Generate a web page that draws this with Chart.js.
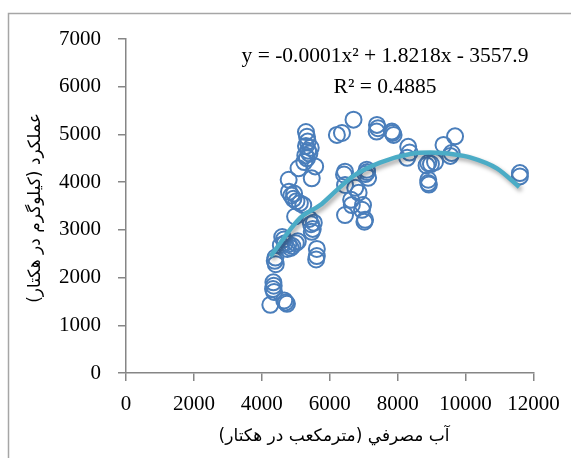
<!DOCTYPE html>
<html>
<head>
<meta charset="utf-8">
<script src="https://cdn.jsdelivr.net/npm/chart.js@4.4.1/dist/chart.umd.min.js"></script>
<style>
  html, body { margin: 0; padding: 0; background: #fff; }
  #wrap { width: 571px; height: 458px; }
</style>
</head>
<body>
<div id="wrap"><canvas id="chart" width="571" height="458"></canvas></div>
<script>
// آب مصرفی (m3/ha) و عملکرد (kg/ha) - خوانده شده از نمودار
const waterUsed = [
    4250, 4660, 4700, 4740, 4340, 4350, 4330, 4360, 4400, 4380,
    4410, 4600, 4650, 4680, 4780, 4900, 5000, 5060, 4750, 4850,
    4560, 5620, 5620, 5600, 5400, 5450, 5500, 5470, 5530, 4980,
    4800, 4870, 4930, 5020, 5120, 5220, 4950, 4790, 5080, 5470,
    5570, 5300, 5330, 5350, 5300, 5360, 5280, 5330, 5250, 5400,
    5440, 6210, 6360, 6700, 7390, 7420, 7380, 7830, 7880, 7850,
    8310, 8350, 8280, 6450, 6420, 6450, 7090, 7050, 7130, 7100,
    6750, 6850, 6630, 6650, 6980, 6950, 6450, 7040, 7020, 8900,
    8980, 8850, 9100, 8900, 8900, 8920, 9350, 9690, 9590, 9550,
    11600, 11600
];
const grainYield = [
    1430, 1520, 1480, 1450, 1900, 1830, 1760, 1700, 2420, 2350,
    2280, 2850, 2800, 2720, 2700, 2660, 2720, 2760, 2600, 2620,
    2680, 2600, 2450, 2380, 3230, 3120, 3020, 2960, 3150, 3280,
    3800, 3720, 3650, 3600, 3560, 3520, 3760, 4050, 4290, 4080,
    4330, 5050, 4950, 4850, 4760, 4660, 4560, 4500, 4420, 4600,
    4720, 4990, 5030, 5310, 5200, 5130, 5060, 5060, 4990, 5030,
    4740, 4620, 4510, 4220, 4160, 3940, 4260, 4170, 4090, 4210,
    3880, 3780, 3630, 3520, 3520, 3420, 3310, 3210, 3170, 4400,
    4380, 4350, 4420, 4050, 3980, 3950, 4780, 4960, 4610, 4550,
    4190, 4120
];

// خط روند (درجه دوم) - نقاط خوانده شده روی منحنی
const trendWater = [4250, 5130, 5720, 6110, 6700, 7480, 8370, 8960, 9680, 10130, 10920, 11580];
const trendYield = [2440, 3250, 3520, 3770, 4130, 4410, 4590, 4620, 4580, 4520, 4290, 3900];

const xTicks = [0, 2000, 4000, 6000, 8000, 10000, 12000];
const yTicks = [0, 1000, 2000, 3000, 4000, 5000, 6000, 7000];

const xTitle = 'آب مصرفي (مترمکعب در هکتار)';
const yTitle = 'عملکرد (کیلوگرم در هکتار)';
const eqText = 'y = -0.0001x² + 1.8218x - 3557.9';
const r2Text = 'R² = 0.4885';

const serif = '"Liberation Serif", "Times New Roman", serif';
const axisGray = '#868686';

const extras = {
    id: 'extras',
    beforeDraw: function (chart) {
        const ctx = chart.ctx;
        ctx.save();
        ctx.fillStyle = '#fff';
        ctx.fillRect(0, 0, chart.width, chart.height);
        ctx.strokeStyle = '#a6a6a6';
        ctx.lineWidth = 1.5;
        ctx.strokeRect(8.5, 13.5, chart.width + 20, chart.height + 20);
        ctx.restore();
    },
    beforeDatasetDraw: function (chart, args) {
        if (args.index !== 0) return;
        const ctx = chart.ctx;
        ctx.save();
        ctx.shadowColor = 'rgba(0,0,0,0.35)';
        ctx.shadowBlur = 4;
        ctx.shadowOffsetX = 2;
        ctx.shadowOffsetY = 3;
    },
    afterDatasetDraw: function (chart, args) {
        if (args.index !== 0) return;
        chart.ctx.restore();
    },
    afterDraw: function (chart) {
        const ctx = chart.ctx;
        const area = chart.chartArea;
        ctx.save();
        ctx.fillStyle = '#000';
        ctx.textAlign = 'center';
        ctx.textBaseline = 'middle';
        ctx.direction = 'ltr';
        ctx.font = '21.5px ' + serif;
        ctx.fillText(eqText, 385, 56);
        ctx.fillText(r2Text, 385, 87);

        ctx.direction = 'rtl';
        ctx.font = '17px "DejaVu Sans", sans-serif';
        ctx.fillText(xTitle, 334, 437);
        ctx.translate(36, 208);
        ctx.rotate(-Math.PI / 2);
        ctx.fillText(yTitle, 0, 0);
        ctx.restore();
    }
};

const points = waterUsed.map(function (w, i) { return { x: w, y: grainYield[i] }; });
const trend = trendWater.map(function (w, i) { return { x: w, y: trendYield[i] }; });
const plain = function (v) { return String(v); };

new Chart(document.getElementById('chart'), {
    type: 'scatter',
    data: {
        datasets: [
            {
                type: 'line',
                label: 'trend',
                data: trend,
                borderColor: '#4bacc6',
                borderWidth: 4.5,
                pointRadius: 0,
                fill: false,
                cubicInterpolationMode: 'monotone',
                order: 0,
            },
            {
                label: 'yield',
                data: points,
                pointStyle: 'circle',
                pointRadius: 8,
                pointBorderWidth: 2,
                borderColor: '#4a7ebb',
                backgroundColor: 'rgba(0,0,0,0)',
                order: 1,
            },
        ],
    },
    options: {
        responsive: false,
        animation: false,
        layout: { padding: { left: 0, right: 37.5, top: 39, bottom: 0 } },
        plugins: {
            legend: { display: false },
            tooltip: { enabled: false },
        },
        scales: {
            x: {
                type: 'linear',
                min: 0,
                max: 12000,
                afterFit: function (s) { s.height = 85; },
                afterBuildTicks: function (s) { s.ticks = xTicks.map(function (v) { return { value: v }; }); },
                ticks: { color: '#000', font: { family: serif, size: 21 }, padding: 11, maxRotation: 0, callback: plain },
                grid: { drawOnChartArea: false, drawTicks: true, tickLength: 8, color: axisGray, lineWidth: 1.5 },
                border: { color: axisGray, width: 1.5 },
            },
            y: {
                type: 'linear',
                min: 0,
                max: 7000,
                afterFit: function (s) { s.width = 126; },
                afterBuildTicks: function (s) { s.ticks = yTicks.map(function (v) { return { value: v }; }); },
                ticks: { color: '#000', font: { family: serif, size: 21 }, padding: 17, callback: plain },
                grid: { drawOnChartArea: false, drawTicks: true, tickLength: 8, color: axisGray, lineWidth: 1.5 },
                border: { color: axisGray, width: 1.5 },
            },
        },
    },
    plugins: [extras],
});
</script>
</body>
</html>
